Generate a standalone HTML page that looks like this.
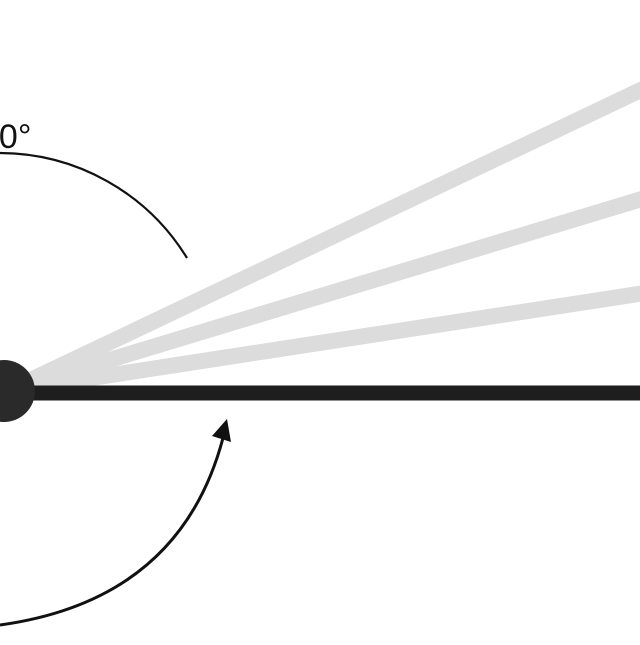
<!DOCTYPE html>
<html><head><style>html,body{margin:0;padding:0;background:#fff;overflow:hidden}</style></head>
<body>
<svg width="640" height="640" viewBox="0 0 640 640" xmlns="http://www.w3.org/2000/svg">
<g stroke="#dcdcdc" stroke-width="16" stroke-linecap="butt">
<line x1="20" y1="385" x2="645" y2="88"/>
<line x1="20" y1="387" x2="645" y2="198"/>
<line x1="20" y1="389" x2="645" y2="293"/>
</g>
<line x1="20" y1="393" x2="640" y2="393" stroke="#1e1e1e" stroke-width="15"/>
<circle cx="4" cy="391" r="31" fill="#2a2a2a"/>
<path d="M0,153 A 220 220 0 0 1 187,258" fill="none" stroke="#111" stroke-width="2.2"/>
<path d="M0,625 Q180,600 223,438" fill="none" stroke="#111" stroke-width="3"/>
<polygon points="227,419 212,436 231,442" fill="#111"/>
<text x="-20" y="148" font-family="Liberation Sans, sans-serif" font-size="34" fill="#111">90°</text>
</svg>
</body></html>
